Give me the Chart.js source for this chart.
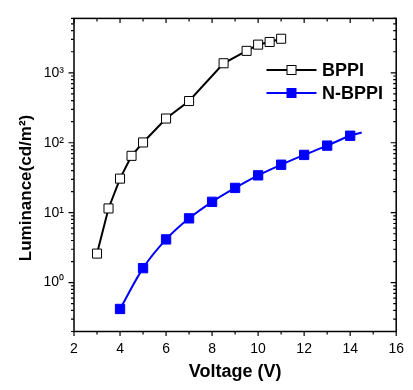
<!DOCTYPE html>
<html>
<head>
<meta charset="utf-8">
<script src="https://cdn.jsdelivr.net/npm/chart.js@4.4.1/dist/chart.umd.min.js"></script>
<style>
  html, body { margin: 0; padding: 0; background: #fff; }
  #wrap { width: 413px; height: 390px; position: relative; }
</style>
</head>
<body>
<div id="wrap"><canvas id="c" width="413" height="390"></canvas></div>
<script>
// ---- data ----
const bppiVoltage = [3, 3.5, 4, 4.5, 5, 6, 7, 8.5, 9.5, 10, 10.5, 11];
const bppiLuminance = [2.6, 11.5, 30.7, 65, 101, 222, 395, 1370, 2060, 2530, 2760, 3070];
const nbppiVoltage = [4, 5, 6, 7, 8, 9, 10, 11, 12, 13, 14, 14.5];
const nbppiLuminance = [0.42, 1.61, 4.15, 8.3, 14.3, 22.6, 34.2, 48.5, 67, 91, 126, 140];
const nbppiFitTail = 1; // last N-BPPI entry is only the end of the fitted curve (no marker)
const xTicks = [2, 4, 6, 8, 10, 12, 14, 16];
const yTicks = [1, 10, 100, 1000];
const seriesNames = ['BPPI', 'N-BPPI'];
const xTitle = 'Voltage (V)';
const yTitle = 'Luminance(cd/m²)';

const SUP = {'0': '\u2070', '1': '\u00B9', '2': '\u00B2', '3': '\u00B3', '-': '\u207B'};
function sup(n) { return String(n).split('').map(c => SUP[c]).join(''); }

const PLOT = { left: 74, right: 401.5, top: 16, bottom: 331.5 };

const framePlugin = {
  id: 'frame',
  afterDraw(chart) {
    const ctx = chart.ctx;
    const a = chart.chartArea;
    const xs = chart.scales.x, ys = chart.scales.y;
    ctx.save();
    ctx.strokeStyle = '#000';
    ctx.lineWidth = 1.5;
    ctx.strokeRect(a.left, a.top, a.right - a.left, a.bottom - a.top);
    ctx.lineWidth = 1.2;
    // x ticks: bottom outward, top inward
    for (let v = xs.min; v <= xs.max; v += 1) {
      const px = xs.getPixelForValue(v);
      const major = v % 2 === 0;
      const len = major ? 4.5 : 3;
      ctx.beginPath();
      ctx.moveTo(px, a.bottom); ctx.lineTo(px, a.bottom + len);
      ctx.moveTo(px, a.top); ctx.lineTo(px, a.top + len);
      ctx.stroke();
    }
    // y ticks (log): left outward, right inward
    for (let e = -1; e <= 3; e++) {
      for (let m = 1; m <= 9; m++) {
        const v = m * Math.pow(10, e);
        if (v < ys.min - 1e-9 || v > ys.max + 1e-9) continue;
        const py = ys.getPixelForValue(v);
        const len = m === 1 ? 5.5 : 3;
        ctx.beginPath();
        ctx.moveTo(a.left, py); ctx.lineTo(a.left - len, py);
        ctx.moveTo(a.right, py); ctx.lineTo(a.right - len, py);
        ctx.stroke();
      }
    }
    // y axis title
    ctx.fillStyle = '#000';
    ctx.font = 'bold 17px "Liberation Sans", Arial, sans-serif';
    ctx.textAlign = 'center';
    ctx.textBaseline = 'middle';
    ctx.translate(26, 188);
    ctx.rotate(-Math.PI / 2);
    ctx.fillText(yTitle, 0, 0);
    ctx.restore();

    // legend
    const ds = chart.data.datasets;
    ctx.save();
    ctx.font = 'bold 18px "Liberation Sans", Arial, sans-serif';
    ctx.textBaseline = 'middle';
    ctx.textAlign = 'left';
    const rows = [70, 93];
    ds.forEach((d, i) => {
      const y = rows[i];
      ctx.strokeStyle = d.borderColor;
      ctx.lineWidth = 2;
      ctx.beginPath(); ctx.moveTo(266.5, y); ctx.lineTo(316.5, y); ctx.stroke();
      const s = 9;
      ctx.fillStyle = d.pointBackgroundColor;
      ctx.fillRect(291.5 - s / 2, y - s / 2, s, s);
      ctx.lineWidth = 1;
      ctx.strokeStyle = d.pointBorderColor;
      ctx.strokeRect(291.5 - s / 2, y - s / 2, s, s);
      ctx.fillStyle = '#000';
      ctx.fillText(seriesNames[i], 322, y + 1);
    });
    ctx.restore();
  }
};

new Chart(document.getElementById('c'), {
  type: 'line',
  data: {
    datasets: [
      {
        label: seriesNames[0],
        data: bppiVoltage.map((x, i) => ({x, y: bppiLuminance[i]})),
        borderColor: '#000',
        borderWidth: 2,
        pointStyle: 'rect',
        pointRadius: 6.4,
        pointBackgroundColor: '#fff',
        pointBorderColor: '#000',
        pointBorderWidth: 1,
        tension: 0
      },
      {
        label: seriesNames[1],
        data: nbppiVoltage.map((x, i) => ({x, y: nbppiLuminance[i]})),
        borderColor: '#0000ff',
        borderWidth: 2,
        pointStyle: 'rect',
        pointRadius: ctx => (ctx.dataIndex >= nbppiVoltage.length - nbppiFitTail ? 0 : 6.6),
        pointBackgroundColor: '#0000ff',
        pointBorderColor: '#0000ff',
        pointBorderWidth: 1,
        cubicInterpolationMode: 'monotone'
      }
    ]
  },
  options: {
    responsive: false,
    animation: false,
    devicePixelRatio: 1,
    layout: { padding: 0 },
    plugins: { legend: { display: false }, tooltip: { enabled: false } },
    elements: { line: { fill: false } },
    scales: {
      x: {
        type: 'linear',
        min: 2, max: 16,
        afterBuildTicks: s => { s.ticks = xTicks.map(v => ({value: v})); },
        afterFit: s => { s.height = 390 - PLOT.bottom; },
        grid: { display: false, drawTicks: false },
        border: { display: false },
        ticks: { color: '#000', font: { size: 14, family: '"Liberation Sans", Arial, sans-serif' }, padding: 9, maxRotation: 0 },
        title: { display: true, text: xTitle, color: '#000',
                 font: { size: 18, weight: 'bold', family: '"Liberation Sans", Arial, sans-serif' },
                 padding: { top: 0, bottom: 7 } }
      },
      y: {
        type: 'logarithmic',
        min: 0.2, max: 6000,
        afterBuildTicks: s => { s.ticks = yTicks.map(v => ({value: v, major: true})); },
        afterFit: s => { s.width = PLOT.left; },
        grid: { display: false, drawTicks: false },
        border: { display: false },
        ticks: { color: '#000', font: { size: 14, family: '"Liberation Sans", Arial, sans-serif' }, padding: 10,
                 callback: v => '10' + sup(Math.round(Math.log10(v))) }
      },
      y2: {
        type: 'linear', position: 'right',
        afterFit: s => { s.width = 413 - PLOT.right; },
        grid: { display: false, drawTicks: false },
        border: { display: false },
        ticks: { display: false }
      },
      x2: {
        type: 'linear', position: 'top',
        afterFit: s => { s.height = PLOT.top; },
        grid: { display: false, drawTicks: false },
        border: { display: false },
        ticks: { display: false }
      }
    }
  },
  plugins: [framePlugin]
});
</script>
</body>
</html>
